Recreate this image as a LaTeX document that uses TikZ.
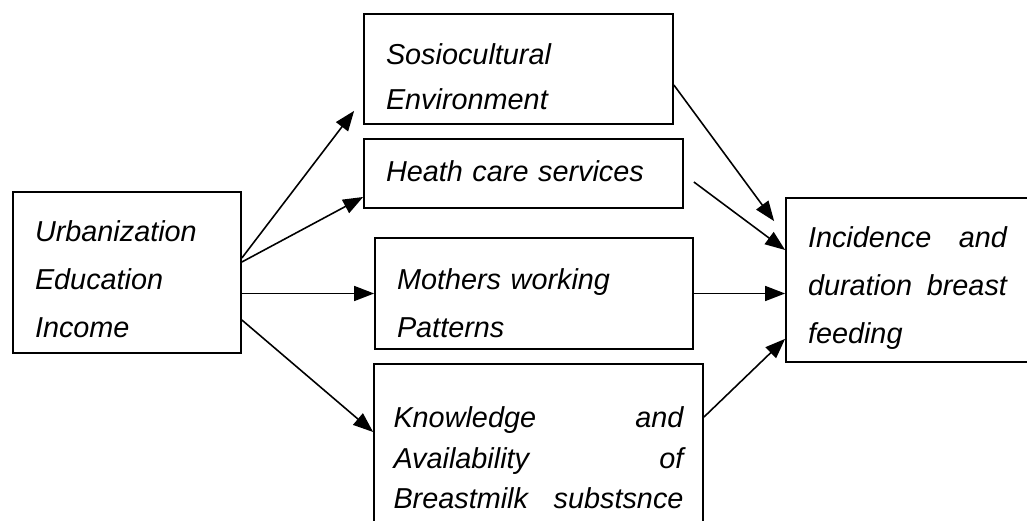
\documentclass[tikz,border=0pt]{standalone}
\usepackage{fontspec}
\setmainfont{Liberation Sans}
\usetikzlibrary{arrows.meta}

\begin{document}
\begin{tikzpicture}[
    box/.style={draw, line width=1pt, inner xsep=0.44cm, inner ysep=0pt, align=left,
      font=\fontsize{16.4}{27.3}\selectfont\itshape},
    link/.style={line width=0.9pt, -{Triangle[length=0.4cm,width=0.3cm]}}
  ]
  \useasboundingbox (0,0) rectangle (20.54,10.42);

  % factors
  \node[box, text width=3.68cm, text height=1.00cm, text depth=2.22cm] (urb) at (2.54,4.97)
    {Urbanization\\Education\\Income};
  \node[box, text width=5.30cm, text height=1.02cm, text depth=1.18cm,
    font=\fontsize{16.4}{25.6}\selectfont\itshape] (sos) at (10.37,9.04)
    {Sosiocultural\\Environment};
  \node[box, text width=5.50cm, text height=0.86cm, text depth=0.52cm] (hcs) at (10.47,6.95)
    {Heath care services};
  \node[box, text width=5.48cm, text height=1.04cm, text depth=1.18cm] (mwp) at (10.68,4.55)
    {Mothers working\\Patterns};
  \node[box, text width=5.80cm, inner xsep=0.39cm, text height=1.28cm, text depth=2.40cm,
    font=\fontsize{16.4}{22.8}\selectfont\itshape] (kas) at (10.77,1.30)
    {Knowledge\hfill and\\Availability\hfill of\\Breastmilk\hfill substsnce};

  % outcome
  \node[box, text width=3.98cm, text height=1.00cm, text depth=2.28cm] (inc) at (18.15,4.82)
    {Incidence\hfill and\\duration\hfill breast\\feeding};

  \draw[link] ([yshift=0.29cm]urb.east) -- ([xshift=-0.18cm,yshift=0.28cm]sos.south west);
  \draw[link] ([yshift=0.21cm]urb.east) -- ([yshift=-0.47cm]hcs.west);
  \draw[link] (urb.east |- mwp.west) -- (mwp.west);
  \draw[link] ([yshift=-0.95cm]urb.east) -- ([yshift=0.48cm]kas.west);

  \draw[link] ([yshift=-0.32cm]sos.east) -- ([xshift=-0.22cm,yshift=-0.48cm]inc.north west);
  \draw[link] ([xshift=0.2cm,yshift=-0.17cm]hcs.east) -- ([yshift=0.6cm]inc.west);
  \draw[link] (mwp.east) -- (mwp.east -| inc.west);
  \draw[link] ([yshift=-1.08cm]kas.north east) -- ([yshift=0.48cm]inc.south west);
\end{tikzpicture}
\end{document}
